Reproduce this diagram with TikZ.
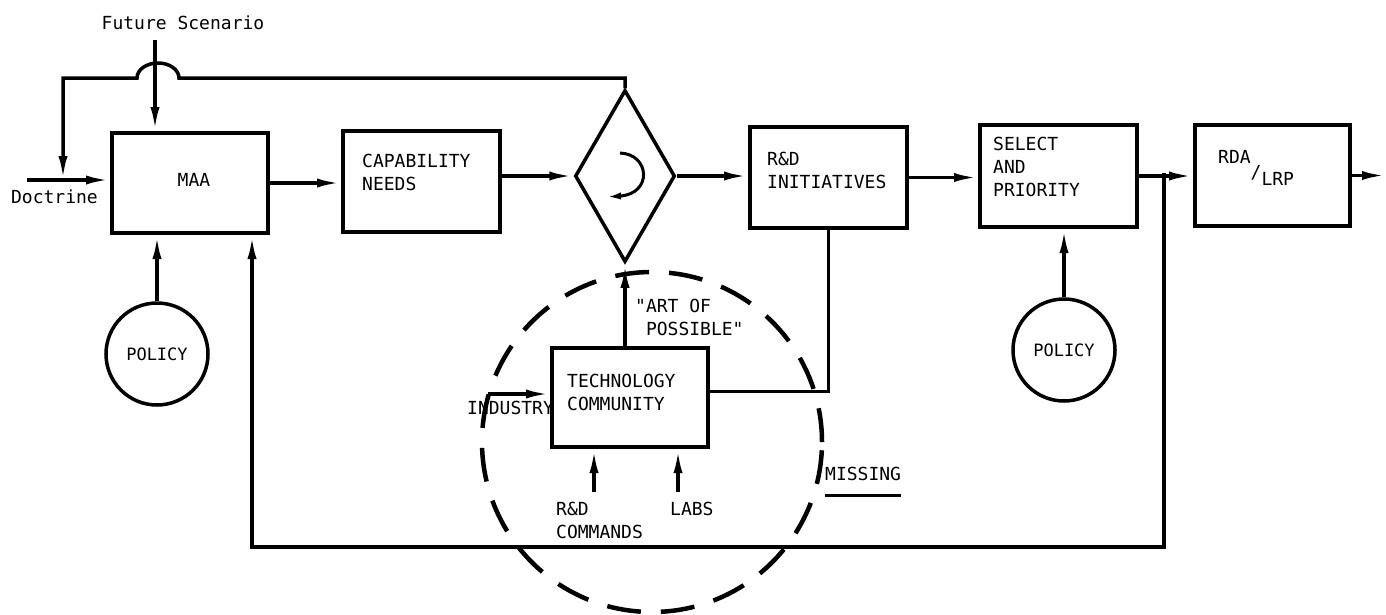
\documentclass[tikz,border=0pt]{standalone}
\usepackage{fontspec}
\newfontfamily\lettering{DejaVu Sans Mono}
\usetikzlibrary{arrows.meta,shapes,positioning,calc}

\begin{document}
\begin{tikzpicture}[
                x=1pt, y=-1pt,
                box/.style={draw, line width=4pt, inner sep=0pt},
                pol/.style={circle, draw, line width=3.5pt, minimum size=102pt, inner sep=0pt, font=\lettering\fontsize{17}{20}\selectfont},
                lab/.style={inner sep=0pt, align=left, font=\lettering\fontsize{18}{23}\selectfont},
                con/.style={line width=3.5pt},
                arr/.style={line width=3.5pt, -{Latex[length=24pt,width=9pt]}}
            ]
                \useasboundingbox (0,0) rectangle (1386,614);

% boxes
                \node[box, minimum width=156pt, minimum height=100pt] (maa) at (190,183) {};
                \node[box, minimum width=157pt, minimum height=101pt] (cap) at (421.5,181.5) {};
                \node[diamond, draw, line width=3.5pt, minimum width=100pt, minimum height=172pt, inner sep=0pt] (dia) at (625,176) {};
                \node[box, minimum width=157pt, minimum height=101pt] (rnd) at (828.5,177.5) {};
                \node[box, minimum width=157pt, minimum height=102pt] (sel) at (1058.5,176) {};
                \node[box, minimum width=155pt, minimum height=101pt] (rda) at (1272.5,175.5) {};
                \node[box, minimum width=156pt, minimum height=99pt] (tech) at (630,397.5) {};

                \node[pol] (polL) at (157,354) {POLICY};
                \node[pol] (polR) at (1064,350) {POLICY};

                \node[circle, draw, line width=4.5pt, dash pattern=on 34pt off 20pt, minimum size=340pt] (ring) at (652,442) {};

% free ends
                \coordinate (fstop) at (155,40);
                \coordinate (dl) at (27,180);
                \coordinate (dj) at (63,180);
                \coordinate (fj) at (1164,173);
                \coordinate (fb) at (252,547);
                \coordinate (out) at (1386,170);
                \coordinate (ind) at (488,394);
                \coordinate (cmd) at (594,492);
                \coordinate (lbs) at (678,492);

% connectors
                \draw[arr] (fstop) -- (fstop |- maa.north);
                \draw[arr] (dl) -- (dl -| maa.west);
                \draw[arr] (dia.north) -- (dia.north |- 0,78) -- (179,78)
                    arc[start angle=0, end angle=180, x radius=21pt, y radius=15pt]
                    -- (63,78) -- (dj);
                \draw[arr] (maa.east) -- (maa.east -| cap.west);
                \draw[arr] (cap.east |- dia.west) -- (dia.west);
                \draw[arr] (dia.east) -- (dia.east -| rnd.west);
                \draw[arr] (rnd.east) -- (rnd.east -| sel.west);
                \draw[arr] (sel.east) -- (sel.east -| rda.west);
                \draw[arr] (rda.east) -- (rda.east -| out);
                \draw[arr] (polL.north) -- (polL.north |- maa.south);
                \draw[arr] (polR.north) -- (polR.north |- sel.south);
                \draw[arr] (fj) |- (fb) -- (fb |- maa.south);
                \draw[arr] (tech.north -| dia.south) -- (dia.south);
                \draw[con] ($(tech.east)+(0,-6)$) -| (rnd.south);
                \draw[arr] (ind) -- (ind -| tech.west);
                \draw[arr] (cmd) -- (cmd |- tech.south);
                \draw[arr] (lbs) -- (lbs |- tech.south);
                \draw[line width=3pt, -{Latex[length=16pt,width=7pt]}] ($(dia)+(-5,-23)$)
                    .. controls ($(dia)+(25,-22)$) and ($(dia)+(28,18)$) .. ($(dia)+(-20,21)$);

% labels
                \node[lab] (fs) at (183,23) {Future Scenario};
                \node[lab, anchor=east] (doc) at (98,197) {Doctrine};
                \node[lab] (maat) at (194,180) {MAA};
                \node[lab, anchor=north west] (capt) at (362,153.5) {CAPABILITY\\NEEDS};
                \node[lab, anchor=north west] (rndt) at (767,151.5) {R\&D\\INITIATIVES};
                \node[lab, anchor=north west] (selt) at (993,136.5) {SELECT\\AND\\PRIORITY};
                \node[lab, anchor=north west] (rdat) at (1218,150.5) {RDA\raisebox{-15pt}{/}\raisebox{-22pt}{LRP}};
                \node[lab, anchor=north west] (techt) at (567,373.5) {TECHNOLOGY\\COMMUNITY};
                \node[lab, anchor=north west] (art) at (635,298.5) {"ART OF\\\hphantom{"}POSSIBLE"};
                \node[lab, anchor=north west] (indt) at (467,400.5) {INDUSTRY};
                \node[lab, anchor=north west] (cmdt) at (556,501.5) {R\&D\\COMMANDS};
                \node[lab, anchor=north west] (lbst) at (670,501.5) {LABS};
                \node[lab, anchor=north west] (miss) at (825,466.5) {MISSING};
                \draw[line width=2.5pt] ($(miss.south west)+(0,15)$) -- ($(miss.south east)+(0,15)$);

            \end{tikzpicture}
\end{document}
